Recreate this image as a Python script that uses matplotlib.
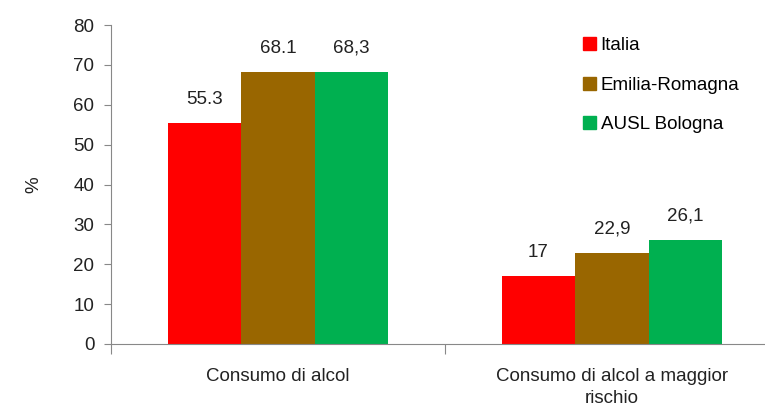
import matplotlib.pyplot as plt
import numpy as np
from matplotlib.patches import Patch

plt.rcParams['font.family'] = ['Liberation Sans', 'DejaVu Sans']

categories = ['Consumo di alcol', 'Consumo di alcol a maggior\nrischio']
series = ['Italia', 'Emilia-Romagna', 'AUSL Bologna']
values = {
    'Italia': [55.3, 17.0],
    'Emilia-Romagna': [68.1, 22.9],
    'AUSL Bologna': [68.3, 26.1],
}
labels = {
    'Italia': ['55.3', '17'],
    'Emilia-Romagna': ['68.1', '22,9'],
    'AUSL Bologna': ['68,3', '26,1'],
}
colors = ['#FF0000', '#996600', '#00B050']
fs = 13.5

fig = plt.figure(figsize=(7.65, 4.08), dpi=100)
# asse leggermente tagliato a destra come nell'originale
ax = fig.add_axes([111 / 765, 64 / 408, 668 / 765, 319 / 408])

x = np.arange(len(categories))
w = 0.22
for i, s in enumerate(series):
    pos = x + (i - 1) * w
    ax.bar(pos, values[s], width=w, color=colors[i], label=s)
    for px, v, t in zip(pos, values[s], labels[s]):
        ax.annotate(t, (px, v), xytext=(0, 11), textcoords='offset points',
                    ha='center', va='bottom', fontsize=fs, color='#222222')

ax.set_xlim(-0.5, 1.5)
ax.set_ylim(0, 80)
ax.set_yticks(range(0, 81, 10))
ax.tick_params(axis='y', labelsize=fs, length=5, pad=7, color='#888888', colors='#222222')
ax.set_xticks([-0.5, 0.5, 1.5])
ax.set_xticklabels([])
ax.set_xticks(x, minor=True)
ax.set_xticklabels(categories, minor=True, fontsize=fs, color='#222222',
                   multialignment='center', linespacing=1.45)
ax.tick_params(axis='x', which='major', length=7, color='#888888')
ax.tick_params(axis='x', which='minor', length=0, pad=17)

for sp in ['top', 'right']:
    ax.spines[sp].set_visible(False)
for sp in ['left', 'bottom']:
    ax.spines[sp].set_color('#888888')

ax.set_ylabel('%', fontsize=fs, color='#222222', labelpad=22)

handles = [Patch(color=c, label=s) for c, s in zip(colors, series)]
fig.legend(handles=handles, loc='upper left', bbox_to_anchor=(566 / 765, 1 - 20 / 408),
           frameon=False, fontsize=fs, handlelength=0.7, handleheight=0.7,
           handletextpad=0.25, labelspacing=1.2)

fig.savefig('out.png', dpi=100)
